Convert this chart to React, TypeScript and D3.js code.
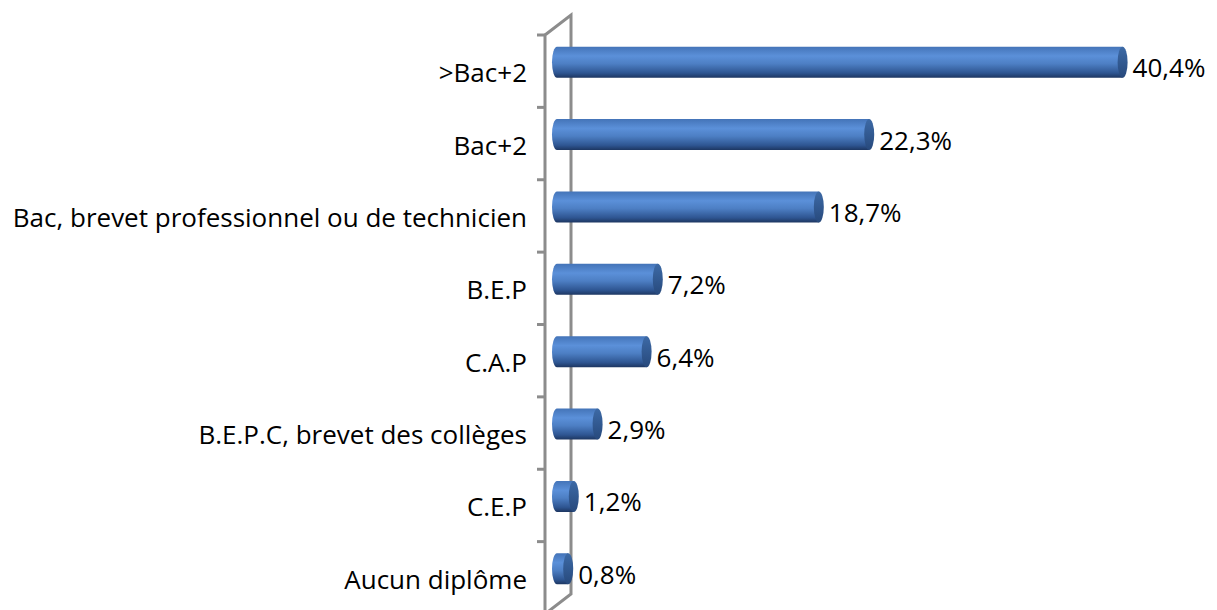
import { useEffect, useRef } from "react";
import * as d3 from "d3";

const categories = [
  ">Bac+2",
  "Bac+2",
  "Bac, brevet professionnel ou de technicien",
  "B.E.P",
  "C.A.P",
  "B.E.P.C, brevet des collèges",
  "C.E.P",
  "Aucun diplôme",
];
const values = [40.4, 22.3, 18.7, 7.2, 6.4, 2.9, 1.2, 0.8];
const valueLabels = ["40,4%", "22,3%", "18,7%", "7,2%", "6,4%", "2,9%", "1,2%", "0,8%"];

const width = 1217;
const height = 610;

export default function App() {
  const svgRef = useRef<SVGSVGElement>(null);

  useEffect(() => {
    const svg = d3.select(svgRef.current);
    svg.selectAll("*").remove();

    const font = "'Open Sans', sans-serif";
    const axisX = 545;
    const depthX = 26,
      depthY = -20;
    const axisColor = "#8c8c8c";

    const yScale = d3.scaleBand<string>().domain(categories).range([35, 614]).padding(0);
    const xScale = d3.scaleLinear().domain([0, 45]).range([557, 557 + 45 * 14.0]);

    const defs = svg.append("defs");
    const grad = defs
      .append("linearGradient")
      .attr("id", "barGrad")
      .attr("x1", 0)
      .attr("y1", 0)
      .attr("x2", 0)
      .attr("y2", 1);
    grad.append("stop").attr("offset", "0%").attr("stop-color", "#4474b8");
    grad.append("stop").attr("offset", "30%").attr("stop-color", "#5b90d9");
    grad.append("stop").attr("offset", "55%").attr("stop-color", "#4d7fc4");
    grad.append("stop").attr("offset", "85%").attr("stop-color", "#2e5591");
    grad.append("stop").attr("offset", "100%").attr("stop-color", "#1d3661");

    const capGrad = defs
      .append("linearGradient")
      .attr("id", "capGrad")
      .attr("x1", 0)
      .attr("y1", 0)
      .attr("x2", 0)
      .attr("y2", 1);
    capGrad.append("stop").attr("offset", "0%").attr("stop-color", "#3d6aa6");
    capGrad.append("stop").attr("offset", "100%").attr("stop-color", "#27497c");

    const [top, bottom] = yScale.range();

    // back wall + front axis
    const axis = svg.append("g").attr("stroke", axisColor).attr("stroke-width", 3).attr("fill", "none");
    axis
      .append("path")
      .attr(
        "d",
        `M${axisX},${top} L${axisX + depthX},${top + depthY} L${axisX + depthX},${bottom + depthY} L${axisX},${bottom} Z`
      )
      .attr("stroke-linejoin", "miter");
    const ticks = categories.map((c) => yScale(c)!).concat([bottom]);
    axis
      .selectAll("line.tick")
      .data(ticks)
      .enter()
      .append("line")
      .attr("class", "tick")
      .attr("x1", axisX - 8)
      .attr("x2", axisX)
      .attr("y1", (d) => d)
      .attr("y2", (d) => d);

    const barH = 31;
    const rx = 5;
    const ry = barH / 2;
    const bars = svg.append("g");
    categories.forEach((c, i) => {
      const cy = yScale(c)! + yScale.bandwidth() / 2 - 9;
      const x0 = xScale(0);
      const x1 = xScale(values[i]);
      const t = cy - ry,
        b = cy + ry;
      bars
        .append("path")
        .attr("d", `M${x0},${t} L${x1},${t} L${x1},${b} L${x0},${b} A${rx},${ry} 0 0 1 ${x0},${t} Z`)
        .attr("fill", "url(#barGrad)");
      bars
        .append("ellipse")
        .attr("cx", x1)
        .attr("cy", cy)
        .attr("rx", rx)
        .attr("ry", ry)
        .attr("fill", "url(#capGrad)");
      bars
        .append("text")
        .attr("x", x1 + rx + 5)
        .attr("y", cy + 5)
        .attr("dominant-baseline", "central")
        .attr("font-family", font)
        .attr("font-size", 26)
        .attr("fill", "#000")
        .text(valueLabels[i]);
    });

    svg
      .append("g")
      .selectAll("text")
      .data(categories)
      .enter()
      .append("text")
      .attr("x", 527)
      .attr("y", (d) => yScale(d)! + yScale.bandwidth() / 2 + 1)
      .attr("text-anchor", "end")
      .attr("dominant-baseline", "central")
      .attr("font-family", font)
      .attr("font-size", 26)
      .attr("fill", "#000")
      .text((d) => d);
  }, []);

  return (
    <svg
      ref={svgRef}
      width={width}
      height={height}
      viewBox={`0 0 ${width} ${height}`}
      style={{ position: "absolute", left: 0, top: 0, background: "#fff" }}
    />
  );
}
